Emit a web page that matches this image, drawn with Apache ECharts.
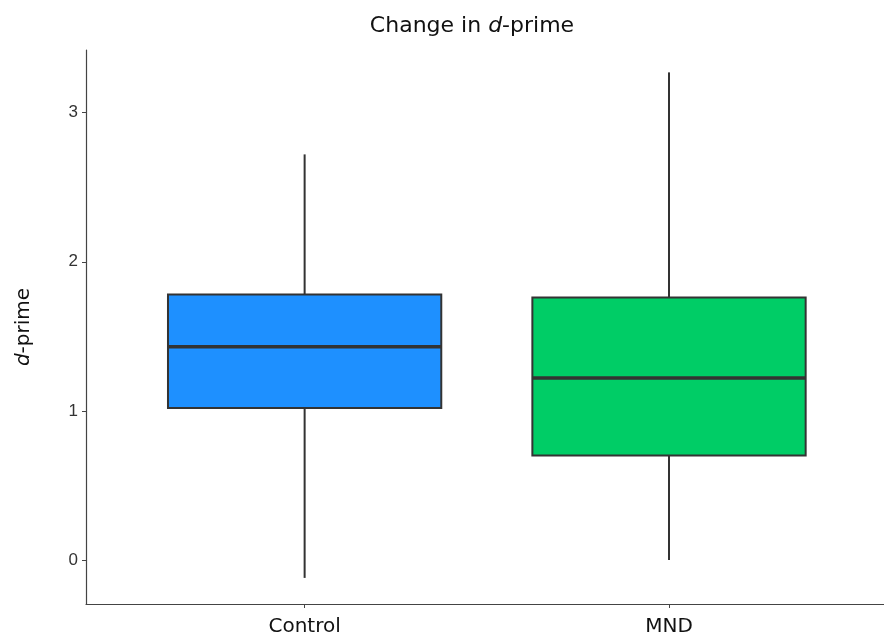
<!DOCTYPE html>
<html>
<head>
<meta charset="utf-8">
<script src="https://cdn.jsdelivr.net/npm/echarts@6/dist/echarts.min.js"></script>
<style>html,body{margin:0;padding:0;background:#fff;}#c{width:884px;height:639px;}</style>
</head>
<body>
<div id="c"></div>
<script>
var categories = ['Control', 'MND'];
var whiskerLow = [-0.12, 0.00];
var q1 = [1.02, 0.70];
var median = [1.43, 1.22];
var q3 = [1.78, 1.76];
var whiskerHigh = [2.72, 3.27];
var colors = ['#1E90FF', '#00CD66'];
var yTicks = [0, 1, 2, 3];

var data = categories.map(function (c, i) {
  return [i + 1, whiskerLow[i], q1[i], median[i], q3[i], whiskerHigh[i]];
});

var chart = echarts.init(document.getElementById('c'), null, {renderer: 'canvas'});
var uiFont = 'DejaVu Sans';
chart.setOption({
  animation: false,
  backgroundColor: '#ffffff',
  title: {
    text: '{n|Change in }{i|d}{n|-prime}',
    left: 467, top: 10, textAlign: 'center',
    textStyle: {
      fontWeight: 'normal',
      rich: {
        n: {fontFamily: uiFont, fontSize: 22, fontWeight: 'normal', color: '#111'},
        i: {fontFamily: uiFont, fontSize: 22, fontWeight: 'normal', fontStyle: 'italic', color: '#111'}
      }
    }
  },
  grid: {left: 86, right: 0, top: 50, bottom: 35},
  xAxis: {
    type: 'value', min: 0.4, max: 2.59,
    splitLine: {show: false},
    axisLine: {show: true, onZero: false, lineStyle: {color: '#444', width: 1.2}},
    axisTick: {show: true, customValues: [1, 2], length: 4, lineStyle: {color: '#444'}},
    axisLabel: {
      customValues: [1, 2], margin: 13,
      fontFamily: uiFont, fontSize: 20, color: '#111',
      formatter: function (v) { return categories[Math.round(v) - 1] || ''; }
    }
  },
  yAxis: {
    type: 'value', min: -0.295, max: 3.42,
    name: '{i|d}{n|-prime}', nameLocation: 'middle', nameGap: 52, nameRotate: 90,
    nameTextStyle: {
      rich: {
        n: {fontFamily: uiFont, fontSize: 20, color: '#111'},
        i: {fontFamily: uiFont, fontSize: 20, fontStyle: 'italic', color: '#111'}
      }
    },
    splitLine: {show: false},
    axisLine: {show: true, onZero: false, lineStyle: {color: '#444', width: 1.2}},
    axisTick: {show: true, customValues: yTicks, length: 4, lineStyle: {color: '#444'}},
    axisLabel: {customValues: yTicks, margin: 8, fontFamily: 'Liberation Sans', fontSize: 17, color: '#333'}
  },
  series: [{
    type: 'custom',
    data: data,
    encode: {x: 0, y: [1, 2, 3, 4, 5]},
    renderItem: function (params, api) {
      var x = api.value(0);
      var i = Math.round(x) - 1;
      var half = api.size([0.75, 0])[0] / 2;
      var pLow = api.coord([x, api.value(1)]);
      var pQ1 = api.coord([x, api.value(2)]);
      var pMed = api.coord([x, api.value(3)]);
      var pQ3 = api.coord([x, api.value(4)]);
      var pHigh = api.coord([x, api.value(5)]);
      var stroke = '#333333';
      return {
        type: 'group',
        children: [
          {type: 'line', shape: {x1: pHigh[0], y1: pHigh[1], x2: pQ3[0], y2: pQ3[1]}, style: {stroke: stroke, lineWidth: 2}},
          {type: 'line', shape: {x1: pQ1[0], y1: pQ1[1], x2: pLow[0], y2: pLow[1]}, style: {stroke: stroke, lineWidth: 2}},
          {type: 'rect', shape: {x: pQ3[0] - half, y: pQ3[1], width: half * 2, height: pQ1[1] - pQ3[1]},
            style: {fill: colors[i], stroke: stroke, lineWidth: 2}},
          {type: 'line', shape: {x1: pMed[0] - half, y1: pMed[1], x2: pMed[0] + half, y2: pMed[1]}, style: {stroke: stroke, lineWidth: 3.5}}
        ]
      };
    }
  }]
});
</script>
</body>
</html>
